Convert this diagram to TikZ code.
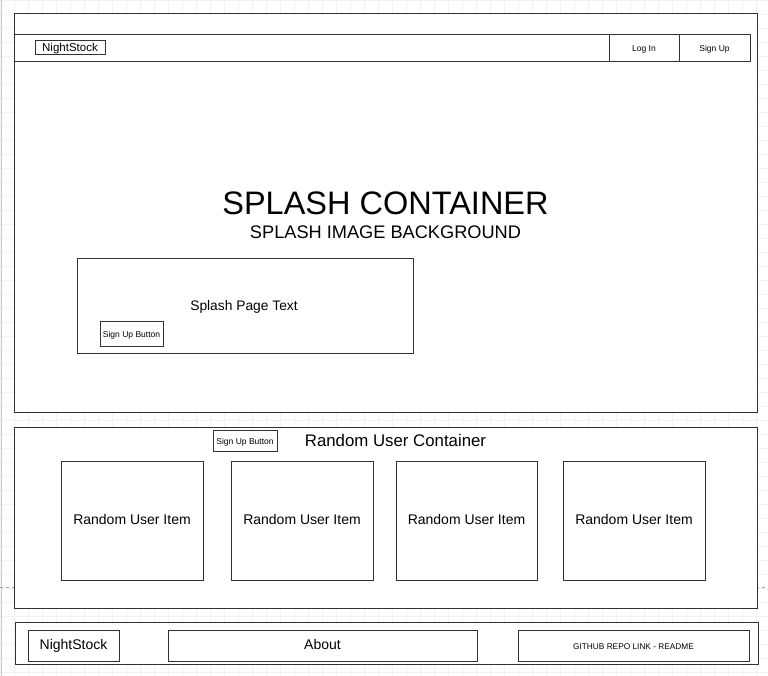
\documentclass[tikz,border=0pt]{standalone}
\usepackage{fontspec}
\setmainfont{Liberation Sans}
\begin{document}
\begin{tikzpicture}[x=1pt,y=-1pt,
  box/.style={draw=black!80, line width=1pt, fill=white, inner sep=0pt, outer sep=0pt, anchor=north west, align=center, text height=0.7em, text depth=0pt},
  txt/.style={inner sep=0pt, anchor=base, text=black}]
\useasboundingbox (0,0) rectangle (768,676);
\fill[white] (0,0) rectangle (768,676);
% faint grid
\draw[black!5, line width=0.6pt, step=14pt] (0,0) grid (768,676);
\draw[black!20, line width=1pt] (1.5,0) -- (1.5,676);
\draw[black!35, dashed, line width=0.6pt] (0,587) -- (768,587);
% splash container
\node[box, minimum width=743pt, minimum height=398pt] (splash) at (14,14) {};
\node[box, minimum width=736pt, minimum height=27pt] (nav) at (14,35) {};
\node[box, minimum width=70pt, minimum height=14pt, font=\fontsize{11.5}{12}\selectfont] (logo) at (35,41) {NightStock};
\node[box, minimum width=70pt, minimum height=27pt, font=\fontsize{8.5}{9}\selectfont] (login) at (609,35) {Log In};
\node[box, minimum width=71pt, minimum height=27pt, font=\fontsize{8.5}{9}\selectfont] (signup) at (679,35) {Sign Up};
\node[txt, font=\fontsize{32.5}{34}\selectfont] (title) at (385.5,215) {SPLASH CONTAINER};
\node[txt, font=\fontsize{18.2}{20}\selectfont] (subtitle) at (385.5,239) {SPLASH IMAGE BACKGROUND};
\node[box, minimum width=336pt, minimum height=94pt] (textbox) at (77,259) {};
\node[txt, font=\fontsize{13.8}{15}\selectfont] (splashtext) at (244,310) {Splash Page Text};
\node[box, minimum width=63pt, minimum height=25pt, font=\fontsize{8.5}{9}\selectfont] (btn1) at (100,321) {Sign Up Button};
% random user container
\node[box, minimum width=743pt, minimum height=181pt] (random) at (14,427) {};
\node[txt, font=\fontsize{16.8}{18}\selectfont] (randomtitle) at (395.5,446) {Random User Container};
\node[box, minimum width=64pt, minimum height=21pt, font=\fontsize{8.5}{9}\selectfont] (btn2) at (213,430) {Sign Up Button};
\node[box, minimum width=142pt, minimum height=119pt, font=\fontsize{14}{15}\selectfont] (item1) at (61,461) {Random User Item};
\node[box, minimum width=142pt, minimum height=119pt, font=\fontsize{14}{15}\selectfont] (item2) at (231,461) {Random User Item};
\node[box, minimum width=141pt, minimum height=119pt, font=\fontsize{14}{15}\selectfont] (item3) at (396,461) {Random User Item};
\node[box, minimum width=142pt, minimum height=119pt, font=\fontsize{14}{15}\selectfont] (item4) at (563,461) {Random User Item};
% footer
\node[box, minimum width=743pt, minimum height=42pt] (footer) at (15,622) {};
\node[box, minimum width=91pt, minimum height=31pt, font=\fontsize{14}{15}\selectfont] (flogo) at (28,630) {NightStock};
\node[box, minimum width=309pt, minimum height=31pt, font=\fontsize{14}{15}\selectfont] (about) at (168,630) {About};
\node[box, minimum width=231pt, minimum height=31pt, font=\fontsize{8.3}{9}\selectfont] (github) at (518,630) {GITHUB REPO LINK - README};
\end{tikzpicture}
\end{document}
